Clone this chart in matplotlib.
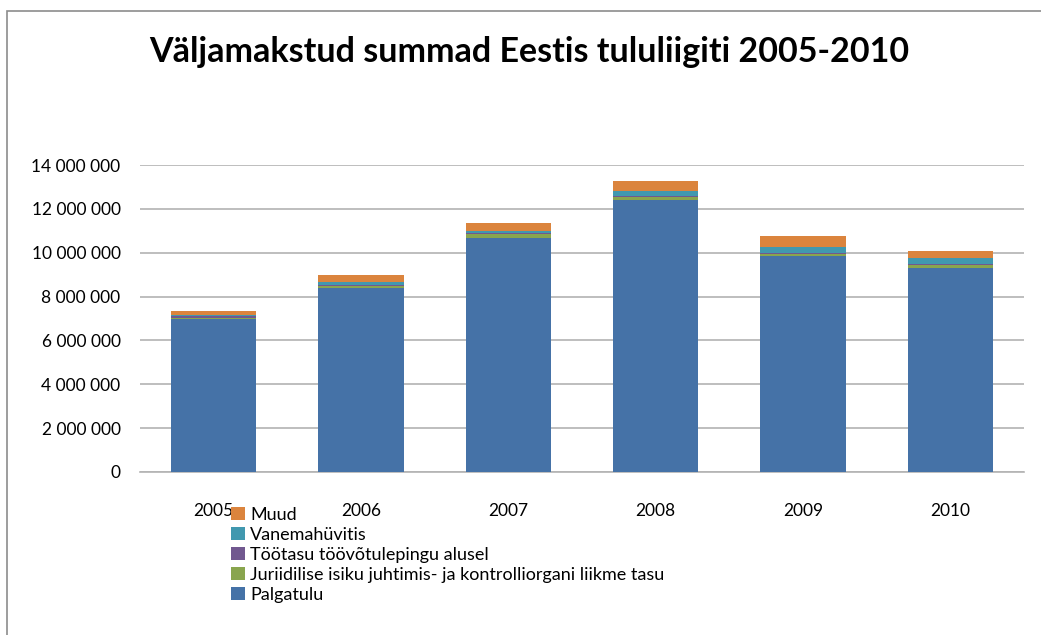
import matplotlib.pyplot as plt
import matplotlib.ticker as mticker
from matplotlib.patches import Rectangle

plt.rcParams['font.family'] = ['Lato', 'DejaVu Sans']

years = ['2005', '2006', '2007', '2008', '2009', '2010']
palgatulu = [7.00e6, 8.40e6, 10.67e6, 12.40e6, 9.86e6, 9.32e6]
juriidilise = [0.02e6, 0.06e6, 0.18e6, 0.14e6, 0.09e6, 0.14e6]
tootasu = [0.08e6, 0.075e6, 0.06e6, 0.06e6, 0.03e6, 0.045e6]
vanemahuvitis = [0.05e6, 0.12e6, 0.09e6, 0.23e6, 0.27e6, 0.27e6]
muud = [0.20e6, 0.32e6, 0.35e6, 0.44e6, 0.50e6, 0.32e6]

series = [
    ("Palgatulu", palgatulu, "#4572a7"),
    ("Juriidilise isiku juhtimis- ja kontrolliorgani liikme tasu", juriidilise, "#89a54e"),
    ("Töötasu töövõtulepingu alusel", tootasu, "#71588f"),
    ("Vanemahüvitis", vanemahuvitis, "#4198af"),
    ("Muud", muud, "#db843d"),
]

fig = plt.figure(figsize=(10.41, 6.35), dpi=100)
ax = fig.add_axes([140/1041, 1-472/635, 884/1041, 307/635])

x = list(range(len(years)))
bottom = [0]*len(years)
handles = []
for name, vals, col in series:
    b = ax.bar(x, vals, 0.58, bottom=bottom, color=col, label=name, zorder=3)
    handles.append(b)
    bottom = [a+v for a, v in zip(bottom, vals)]

ax.set_xlim(-0.5, 5.5)
ax.set_ylim(0, 14e6)
ax.set_yticks(range(0, 14000001, 2000000))
ax.yaxis.set_major_formatter(mticker.FuncFormatter(lambda v, p: f"{int(v):,}".replace(",", " ")))
ax.set_xticks(x)
ax.set_xticklabels(years)
ax.tick_params(length=0, labelsize=12.5, pad=14)
ax.tick_params(axis='x', pad=22)
ax.grid(axis='y', color='#b3b3b3', lw=1.2, zorder=0)
for s in ['left', 'right', 'top']:
    ax.spines[s].set_visible(False)
ax.spines['bottom'].set_color('#b3b3b3')
ax.spines['bottom'].set_linewidth(1.2)

fig.text(529/1041, 1-52/635, "Väljamakstud summad Eestis tululiigiti 2005-2010",
         ha='center', va='center', fontsize=24.5, fontweight='bold')

leg = fig.legend(handles[::-1], [s[0] for s in series][::-1],
                 loc='upper left', bbox_to_anchor=(222/1041, 1-498/635),
                 frameon=False, fontsize=13, handlelength=0.75, handleheight=0.75,
                 handletextpad=0.3, labelspacing=0.22, borderpad=0)

fig.patches.append(Rectangle((7/1041, -0.05), 1.1, 1-11/635+0.05,
                             transform=fig.transFigure, fill=False,
                             edgecolor='#8c8c8c', lw=1.2))

fig.savefig('out.png', dpi=100)
